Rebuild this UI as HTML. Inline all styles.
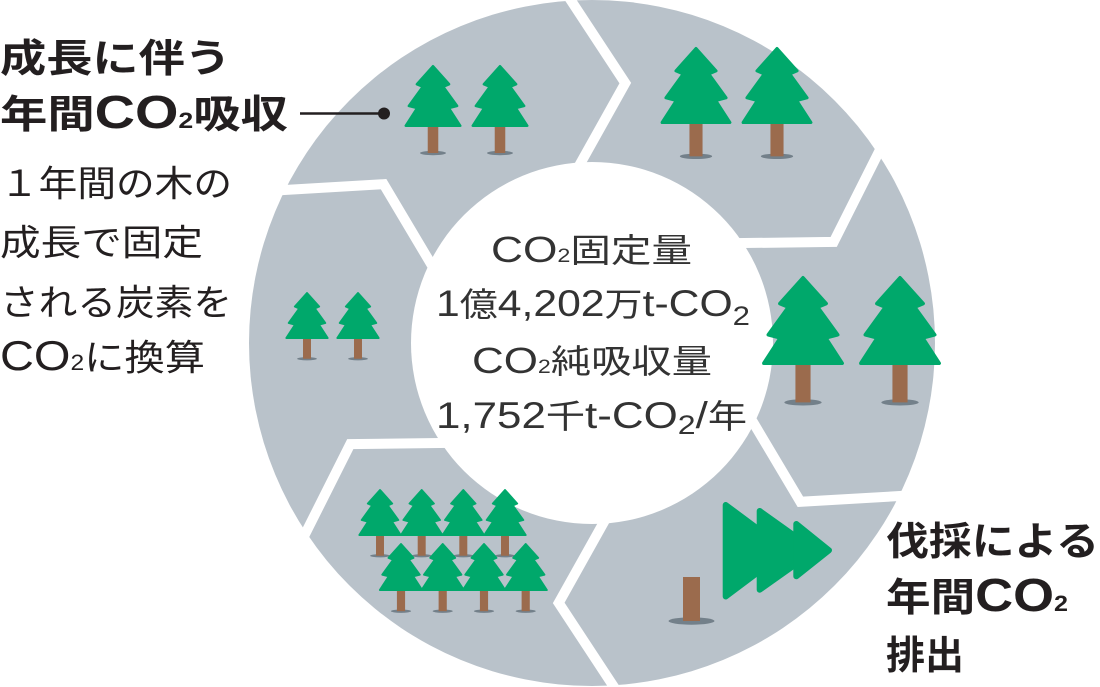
<!DOCTYPE html>
<html>
<head>
<meta charset="utf-8">
<style>
html,body{margin:0;padding:0;background:#fff;}
svg{display:block}
</style>
</head>
<body>
<svg width="1100" height="687" viewBox="0 0 1100 687" xmlns="http://www.w3.org/2000/svg">
  <defs>
    <g id="t">
      <ellipse cx="0" cy="142" rx="21" ry="3.5" fill="#73808a"/>
      <rect x="-8.5" y="96" width="17" height="46" fill="#9b6b4d"/>
      <polygon points="0,2 26,31 16.5,35 39,66 25.5,69.5 44,98 -44,98 -25.5,69.5 -39,66 -16.5,35 -26,31" fill="#00a86b" stroke="#00a86b" stroke-width="4" stroke-linejoin="round"/>
    </g>
  </defs>

  <!-- ring -->
  <circle cx="592" cy="343" r="343" fill="#b9c2ca"/>
  <circle cx="592" cy="343" r="181" fill="#fff"/>

  <!-- chevron gaps -->
  <g fill="none" stroke="#fff" stroke-width="10" stroke-linejoin="miter" stroke-miterlimit="10">
    <polyline points="560.2,-15.9 625.3,83.1 572.1,178.2"/>
    <polyline points="886.9,136.0 833.7,241.9 724.8,243.3"/>
    <polyline points="918.7,494.9 800.4,501.8 744.7,408.2"/>
    <polyline points="623.8,701.9 558.7,602.9 611.9,507.8"/>
    <polyline points="297.1,550.0 350.3,444.1 459.2,442.7"/>
    <polyline points="265.3,191.1 383.6,184.2 439.3,277.8"/>
  </g>

  <!-- trees -->
  <use href="#t" transform="translate(433,65) scale(0.62)"/>
  <use href="#t" transform="translate(500,65) scale(0.62)"/>

  <use href="#t" transform="translate(696,47) scale(0.77)"/>
  <use href="#t" transform="translate(777,47) scale(0.77)"/>

  <use href="#t" transform="translate(803,276) scale(0.89)"/>
  <use href="#t" transform="translate(900,276) scale(0.89)"/>

  <use href="#t" transform="translate(307,292) scale(0.47)"/>
  <use href="#t" transform="translate(358,292) scale(0.47)"/>

  <use href="#t" transform="translate(380,489) scale(0.47)"/>
  <use href="#t" transform="translate(421.7,489) scale(0.47)"/>
  <use href="#t" transform="translate(463.3,489) scale(0.47)"/>
  <use href="#t" transform="translate(505,489) scale(0.47)"/>
  <use href="#t" transform="translate(401,543) scale(0.48)"/>
  <use href="#t" transform="translate(442.7,543) scale(0.48)"/>
  <use href="#t" transform="translate(484,543) scale(0.48)"/>
  <use href="#t" transform="translate(525.7,543) scale(0.48)"/>

  <!-- stump -->
  <ellipse cx="691.5" cy="621" rx="23" ry="3.7" fill="#73808a"/>
  <rect x="683" y="577" width="17" height="44" fill="#9b6b4d"/>

  <!-- fast-forward arrows -->
  <g fill="#00a86b" stroke="#00a86b" stroke-width="6" stroke-linejoin="round">
    <polygon points="725.7,505 725.7,596.5 787,550.5"/>
    <polygon points="759.7,511 759.7,589.7 815,550.5"/>
    <polygon points="796.3,524 796.3,576.3 829,550.3"/>
  </g>

  <!-- connector -->
  <line x1="300" y1="113.5" x2="383" y2="113.5" stroke="#231f20" stroke-width="2.6"/>
  <circle cx="384" cy="113.5" r="6" fill="#231f20"/>

  <!-- left texts -->
  <g font-family="'Liberation Sans','Noto Sans CJK JP',sans-serif" fill="#231f20">
    <text x="0" y="72" font-size="39" font-weight="700" textLength="231" lengthAdjust="spacingAndGlyphs">成長に伴う</text>
    <text x="0" y="128" font-size="39" font-weight="700" textLength="288" lengthAdjust="spacingAndGlyphs">年間<tspan font-size="46">CO</tspan><tspan font-size="22">2</tspan>吸収</text>

    <text x="0" y="196" font-size="36" textLength="232" lengthAdjust="spacingAndGlyphs">１年間の木の</text>
    <text x="0" y="255" font-size="36" textLength="203" lengthAdjust="spacingAndGlyphs">成長で固定</text>
    <text x="0" y="315" font-size="36" textLength="232" lengthAdjust="spacingAndGlyphs">される炭素を</text>
    <text x="0" y="370" font-size="36" textLength="205" lengthAdjust="spacingAndGlyphs"><tspan font-size="42">CO</tspan><tspan font-size="22">2</tspan>に換算</text>

    <!-- right texts -->
    <text x="886" y="555" font-size="39" font-weight="700" textLength="213" lengthAdjust="spacingAndGlyphs">伐採による</text>
    <text x="886" y="611" font-size="39" font-weight="700" textLength="182" lengthAdjust="spacingAndGlyphs">年間<tspan font-size="46">CO</tspan><tspan font-size="22">2</tspan></text>
    <text x="886" y="669" font-size="39" font-weight="700" textLength="78" lengthAdjust="spacingAndGlyphs">排出</text>
  </g>

  <!-- center texts -->
  <g font-family="'Liberation Sans','Noto Sans CJK JP',sans-serif" fill="#333">
    <text x="491" y="262" font-size="33" textLength="201" lengthAdjust="spacingAndGlyphs"><tspan font-size="36">CO</tspan><tspan font-size="19">2</tspan>固定量</text>
    <text x="436" y="316" font-size="33" textLength="314" lengthAdjust="spacingAndGlyphs"><tspan font-size="37">1</tspan>億<tspan font-size="37">4,202</tspan>万<tspan font-size="37">t-CO</tspan><tspan font-size="27" dy="9">2</tspan></text>
    <text x="472" y="373" font-size="33" textLength="240" lengthAdjust="spacingAndGlyphs"><tspan font-size="36">CO</tspan><tspan font-size="19">2</tspan>純吸収量</text>
    <text x="436" y="428" font-size="33" textLength="311" lengthAdjust="spacingAndGlyphs"><tspan font-size="37">1,752</tspan>千<tspan font-size="37">t-CO</tspan><tspan font-size="27" dy="6">2</tspan><tspan dy="-6" font-size="37">/</tspan>年</text>
  </g>
</svg>
</body>
</html>
